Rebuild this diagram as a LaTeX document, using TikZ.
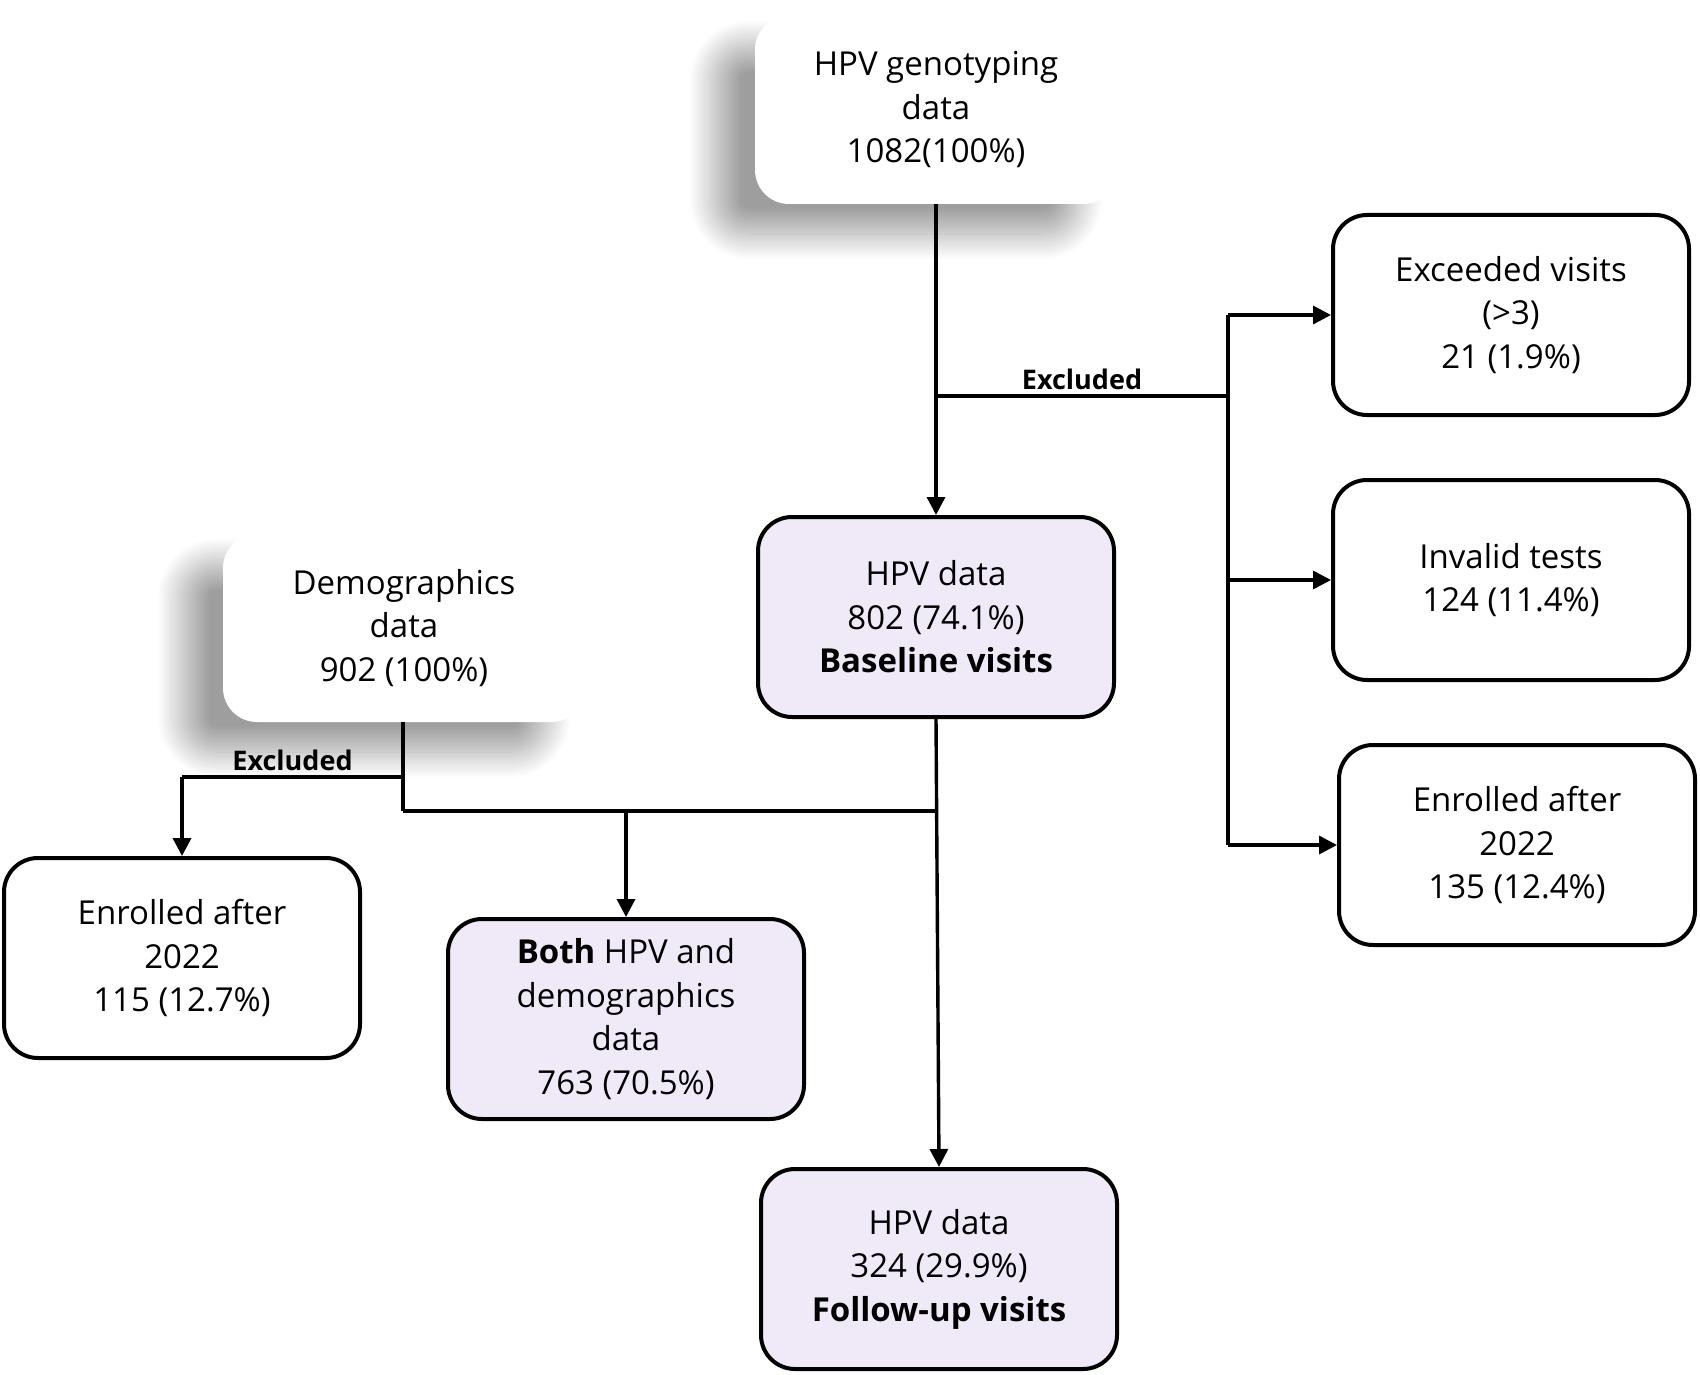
\documentclass[tikz,border=0pt]{standalone}
\usepackage{fontspec}
\setmainfont{Open Sans}
\usetikzlibrary{arrows.meta,shadows.blur}
\definecolor{lav}{HTML}{F0E9F8}
\begin{document}
\begin{tikzpicture}[x=0.5pt,y=-0.5pt,
  txt/.style={font=\fontsize{16.5}{21.75}\selectfont},
  box/.style={txt,draw=black,line width=2pt,rounded corners=17pt,minimum width=178pt,minimum height=100pt,align=center,fill=white,inner sep=0pt},
  pbox/.style={box,fill=lav},
  sbox/.style={txt,rounded corners=17pt,fill=white,minimum width=181pt,minimum height=94pt,align=center,inner sep=0pt,
    blur shadow={shadow xshift=-20pt,shadow yshift=-15pt,shadow blur radius=13pt,shadow blur steps=30,shadow opacity=38}},
  conn/.style={line width=1.7pt},
  arr/.style={conn,-{Triangle[length=9pt,width=9pt]}},
  lbl/.style={font=\fontsize{13.5}{15}\bfseries\selectfont,inner sep=2.5pt}
]
\useasboundingbox (0,0) rectangle (1700,1374);

% shadowed source boxes
\node[sbox] (geno) at (936,110) {HPV genotyping\\data\\1082(100\%)};
\node[sbox] (demo) at (404,628) {Demographics\\data\\902 (100\%)};

% boxes
\node[pbox] (base) at (936,617) {HPV data\\802 (74.1\%)\\\textbf{Baseline visits}};
\node[box] (ex1) at (1511,315) {Exceeded visits\\(>3)\\21 (1.9\%)};
\node[box] (ex2) at (1511,580) {Invalid tests\\124 (11.4\%)};
\node[box] (ex3) at (1517,845) {Enrolled after\\2022\\135 (12.4\%)};
\node[box] (enl) at (182,958) {Enrolled after\\2022\\115 (12.7\%)};
\node[pbox] (both) at (626,1019) {\textbf{Both} HPV and\\demographics\\data\\763 (70.5\%)};
\node[pbox] (fol) at (939,1269) {HPV data\\324 (29.9\%)\\\textbf{Follow-up visits}};

% junction coordinates
\coordinate (j1) at (936,396);
\coordinate (bus) at (1228,396);
\coordinate (j2) at (403,777);
\coordinate (j3) at (403,811);
\coordinate (j4) at (936,811);
\coordinate (j5) at (626,811);

% top flow
\draw[arr] (geno.south -| j1) -- (base.north);
\draw[conn] (j1) -- node[lbl,above]{Excluded} (bus);
\draw[conn] (ex1.west -| bus) -- (ex3.west -| bus);
\draw[arr] (ex1.west -| bus) -- (ex1.west);
\draw[arr] (ex2.west -| bus) -- (ex2.west);
\draw[arr] (ex3.west -| bus) -- (ex3.west);

% left flow
\draw[conn] (demo.south -| j2) -- (j3);
\draw[conn] (j2) -- node[lbl,above]{Excluded} (enl.north |- j2);
\draw[arr] (enl.north |- j2) -- (enl.north);
\draw[conn] (j3) -- (j4);
\draw[arr] (j5) -- (both.north);
\draw[arr] (base.south) -- (fol.north);
\end{tikzpicture}
\end{document}
